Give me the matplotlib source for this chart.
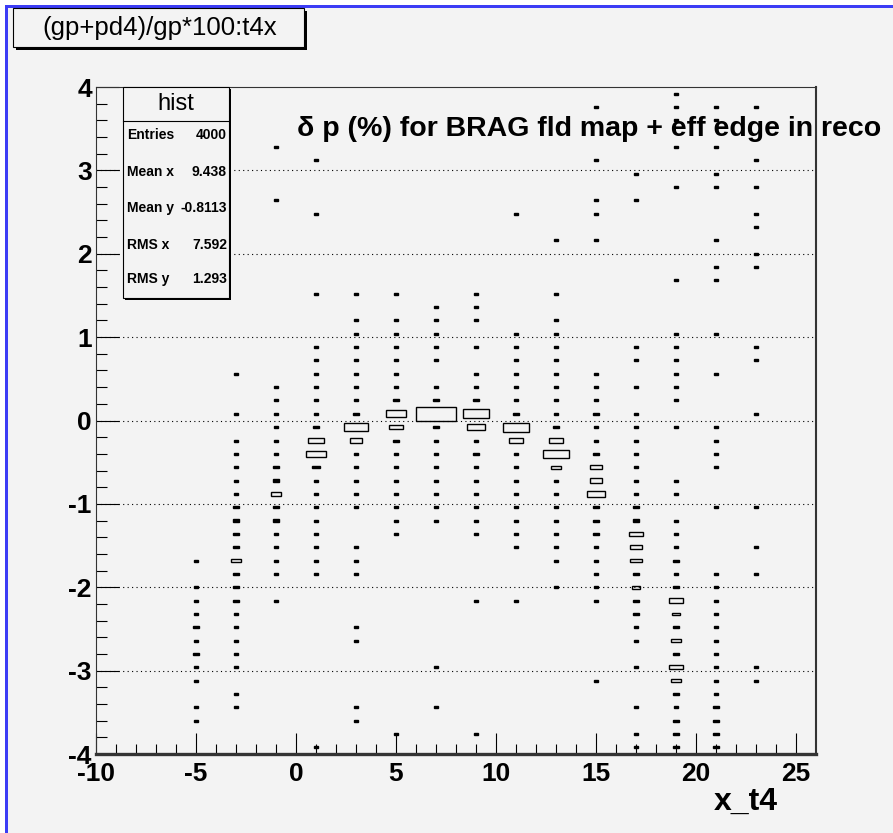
import numpy as np
import matplotlib
matplotlib.use('Agg')
import matplotlib.pyplot as plt
from matplotlib.patches import Rectangle

plt.rcParams['font.family'] = ['Liberation Sans', 'DejaVu Sans']
plt.rcParams['axes.unicode_minus'] = False

# binning of the 2D histogram: x bins of width 2, y has 50 bins from -4 to 4
x_lo, x_hi, x_bin = -10, 26, 2.0
y_lo, y_hi, n_ybins = -4.0, 4.0, 50
y_bin = (y_hi - y_lo) / n_ybins

# bin contents, {y bin index: entries}, one dict per x bin
col_m5 = {14: 1, 12: 1, 11: 1, 10: 1, 9: 3, 8: 1, 7: 3, 6: 2, 5: 1, 3: 1, 2: 1}
col_m3 = {28: 1, 25: 1, 23: 1, 22: 1, 21: 1, 20: 1, 19: 1, 18: 4, 17: 4, 16: 4, 15: 3,
          14: 10, 13: 3, 12: 4, 11: 4, 10: 1, 9: 1, 8: 1, 7: 1, 6: 1, 4: 1, 3: 1}
col_m1 = {45: 1, 41: 1, 27: 1, 26: 1, 25: 1, 24: 1, 23: 1, 22: 1, 21: 3, 20: 4, 19: 10,
          18: 3, 17: 4, 16: 2, 15: 1, 14: 1, 13: 1, 11: 1}
col_p1 = {44: 1, 40: 1, 34: 1, 30: 1, 29: 1, 28: 1, 27: 1, 26: 1, 25: 1, 24: 3, 23: 24,
          22: 34, 21: 5, 20: 1, 19: 1, 18: 1, 17: 1, 16: 1, 15: 1, 14: 1, 13: 1, 0: 1}
col_p3 = {34: 1, 32: 1, 31: 1, 30: 1, 29: 2, 28: 1, 27: 1, 26: 1, 25: 3, 24: 54, 23: 15,
          22: 1, 21: 1, 20: 2, 19: 1, 18: 1, 15: 1, 14: 1, 13: 1, 9: 1, 8: 1, 3: 1, 2: 1}
col_p5 = {34: 1, 32: 1, 31: 1, 30: 2, 29: 1, 28: 1, 27: 1, 26: 3, 25: 39, 24: 17, 23: 3,
          22: 1, 21: 2, 20: 2, 19: 1, 18: 1, 17: 1, 16: 1, 1: 1}
col_p7 = {33: 1, 32: 1, 31: 1, 30: 1, 29: 1, 27: 1, 26: 3, 25: 150, 24: 3, 23: 1, 22: 1,
          21: 1, 20: 2, 19: 2, 18: 1, 17: 1, 6: 1, 3: 1}
col_p9 = {34: 1, 33: 1, 32: 1, 30: 1, 28: 1, 27: 1, 26: 3, 25: 67, 24: 33, 23: 1, 22: 3,
          21: 1, 20: 1, 19: 1, 18: 1, 17: 1, 16: 1, 11: 1, 1: 1}
col_p11 = {40: 1, 31: 1, 30: 1, 29: 1, 28: 1, 27: 1, 26: 1, 25: 3, 24: 67, 23: 17, 22: 1,
           21: 1, 20: 1, 19: 1, 18: 1, 17: 1, 16: 1, 15: 1, 11: 1}
col_p13 = {38: 1, 34: 1, 32: 1, 31: 1, 30: 1, 29: 1, 28: 1, 27: 1, 26: 1, 25: 1, 24: 3,
           23: 21, 22: 60, 21: 8, 20: 1, 19: 1, 18: 1, 17: 1, 16: 1, 15: 1, 14: 1, 12: 1}
col_p15 = {48: 1, 44: 1, 41: 1, 40: 1, 38: 1, 28: 1, 27: 1, 26: 1, 25: 3, 24: 1, 23: 1,
           22: 3, 21: 13, 20: 15, 19: 28, 18: 3, 17: 3, 16: 3, 15: 1, 14: 1, 13: 1, 12: 1,
           11: 1, 5: 1}
col_p17 = {43: 1, 41: 1, 30: 1, 29: 1, 27: 1, 25: 1, 24: 1, 23: 1, 22: 1, 21: 1, 20: 1,
           19: 1, 18: 3, 17: 4, 16: 18, 15: 12, 14: 12, 13: 4, 12: 6, 11: 3, 10: 3, 9: 1,
           8: 1, 6: 1, 3: 1, 1: 1, 0: 1}
col_p19 = {49: 1, 48: 1, 47: 1, 45: 1, 42: 1, 35: 1, 31: 1, 30: 1, 29: 1, 28: 1, 27: 1,
           26: 1, 24: 1, 20: 1, 19: 1, 17: 1, 16: 1, 15: 1, 14: 3, 13: 1, 12: 3, 11: 16,
           10: 6, 9: 4, 8: 10, 7: 4, 6: 16, 5: 10, 4: 4, 3: 1, 2: 3, 1: 3, 0: 3}
col_p21 = {48: 1, 47: 1, 45: 1, 43: 1, 42: 1, 38: 1, 36: 1, 35: 1, 31: 1, 28: 1, 24: 1,
           23: 1, 22: 1, 21: 1, 18: 1, 13: 1, 12: 1, 11: 1, 10: 1, 9: 1, 8: 1, 7: 1, 6: 1,
           5: 1, 4: 1, 3: 3, 2: 3, 1: 3, 0: 3}
col_p23 = {48: 1, 44: 1, 42: 1, 40: 1, 39: 1, 37: 1, 36: 1, 30: 1, 29: 1, 25: 1, 18: 1,
           15: 1, 13: 1, 6: 1, 5: 1}

columns = [(-5, col_m5), (-3, col_m3), (-1, col_m1), (1, col_p1), (3, col_p3),
           (5, col_p5), (7, col_p7), (9, col_p9), (11, col_p11), (13, col_p13),
           (15, col_p15), (17, col_p17), (19, col_p19), (21, col_p21), (23, col_p23)]

stats_labels = ['Entries', 'Mean x', 'Mean y', 'RMS x', 'RMS y']
stats_values = ['4000', '9.438', '-0.8113', '7.592', '1.293']

W, H = 893, 833
BG = '#f3f3f3'
fig = plt.figure(figsize=(W / 100, H / 100), dpi=100, facecolor=BG)


def fx(px):
    return px / W


def fy(py):
    return 1 - py / H


def box(x0, y0, x1, y1, **kw):
    # rectangle given in pixel corners (top-left origin)
    fig.add_artist(Rectangle((fx(x0), fy(y1)), fx(x1) - fx(x0), fy(y0) - fy(y1),
                             transform=fig.transFigure, **kw))


# canvas border (white margin + blue line on top and left)
box(0, 0, W, 5, facecolor='white', edgecolor='none')
box(0, 0, 5, H, facecolor='white', edgecolor='none')
box(5, 5, W, 7.5, facecolor='#3c3cf5', edgecolor='none')
box(5, 5, 7.5, H, facecolor='#3c3cf5', edgecolor='none')

ax_l, ax_r, ax_t, ax_b = 96, 816, 87, 754
ax = fig.add_axes([fx(ax_l), fy(ax_b), fx(ax_r) - fx(ax_l), fy(ax_t) - fy(ax_b)])
ax.set_facecolor(BG)
ax.set_xlim(x_lo, x_hi)
ax.set_ylim(y_lo, y_hi)

for yg in range(-3, 4):
    ax.axhline(yg, color='black', lw=0.8, ls=(0, (1, 3)), zorder=1)

# pixels per data unit, used to keep the smallest boxes visible as dots
px_x = (ax_r - ax_l) / (x_hi - x_lo)
px_y = (ax_b - ax_t) / (y_hi - y_lo)
min_px = 2.0

zmax = max(max(c.values()) for _, c in columns)
for xc, cells in columns:
    for k, n in cells.items():
        r = np.sqrt(n / zmax)
        w = max(x_bin * r, min_px / px_x)
        h = max(y_bin * r, min_px / px_y)
        yc = y_lo + (k + 0.5) * y_bin
        tiny = h * px_y < 2.6  # too small to show a hole, drawn solid
        ax.add_patch(Rectangle((xc - w / 2, yc - h / 2), w, h, fill=tiny,
                               facecolor='black', edgecolor='black', lw=1.0, zorder=3))

ax.set_xticks(range(-10, 26, 5))
ax.set_xticks(range(-10, 26), minor=True)
ax.set_yticks(range(-4, 5))
ax.set_yticks(np.arange(-4, 4.01, 0.2), minor=True)
ax.tick_params(axis='x', which='major', direction='in', length=15, width=0.8,
               labelsize=19, pad=6)
ax.tick_params(axis='x', which='minor', direction='in', length=7.5, width=0.8)
ax.tick_params(axis='y', which='major', direction='in', length=16.5, width=0.8,
               labelsize=19, pad=3)
ax.tick_params(axis='y', which='minor', direction='in', length=8, width=0.8)
for lab in ax.get_xticklabels() + ax.get_yticklabels():
    lab.set_fontweight('bold')

for side, lw in [('left', 0.8), ('top', 0.8), ('right', 1.5), ('bottom', 2.4)]:
    ax.spines[side].set_linewidth(lw)
    ax.spines[side].set_color('#333333')

# axis title
fig.text(fx(778), fy(810), 'x_t4', ha='right', va='baseline', fontsize=23,
         fontweight='bold')

# plot title over the frame
fig.text(fx(297), fy(136), 'δ p (%) for BRAG fld map + eff edge in reco', ha='left',
         va='baseline', fontsize=20.5, fontweight='bold')

# title box top left
box(16, 11, 307, 50, facecolor='black', edgecolor='none')
box(13, 8, 304, 47, facecolor=BG, edgecolor='black', lw=0.8)
fig.text(fx(160), fy(28), '(gp+pd4)/gp*100:t4x', ha='center', va='center', fontsize=18.5)

# stats box
box(125, 89, 231, 300, facecolor='black', edgecolor='none')
box(123, 87, 229, 298, facecolor=BG, edgecolor='black', lw=0.8)
fig.add_artist(plt.Line2D([fx(123), fx(229)], [fy(121), fy(121)],
                          transform=fig.transFigure, color='black', lw=0.8))
fig.text(fx(176), fy(104), 'hist', ha='center', va='center', fontsize=17)
row_y = [135, 172, 208, 245, 279]
for lab, val, py in zip(stats_labels, stats_values, row_y):
    fig.text(fx(127), fy(py), lab, ha='left', va='center', fontsize=10, fontweight='bold')
    fig.text(fx(227), fy(py), val, ha='right', va='center', fontsize=10, fontweight='bold')

fig.savefig('out.png', dpi=100, facecolor=BG)
